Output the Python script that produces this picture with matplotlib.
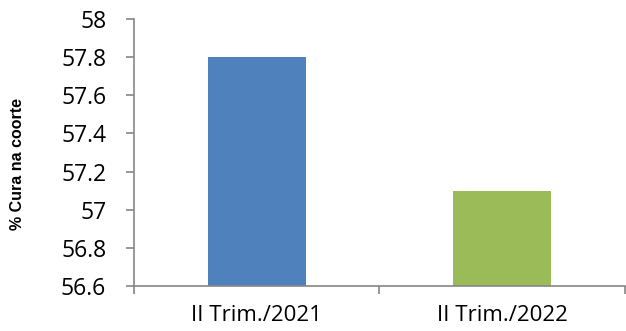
import matplotlib.pyplot as plt

categories = ["II Trim./2021", "II Trim./2022"]
values = [57.8, 57.1]
colors = ["#4F81BD", "#9BBB59"]
yticks = [56.6, 56.8, 57, 57.2, 57.4, 57.6, 57.8, 58]
ytick_labels = ["56.6", "56.8", "57", "57.2", "57.4", "57.6", "57.8", "58"]

fig = plt.figure(figsize=(6.26, 3.31), dpi=100)
ax = fig.add_axes([0.214, 0.136, 0.784, 0.807])

x = list(range(len(categories)))
ax.bar(x, [v - 56.6 for v in values], bottom=56.6, width=0.4, color=colors)

ax.set_xlim(-0.5, 1.5)
ax.set_ylim(56.6, 58)
ax.set_yticks(yticks)
ax.set_yticklabels(ytick_labels, fontfamily="Open Sans", fontsize=16.5)
ax.set_xticks(x)
ax.set_xticklabels(categories, fontfamily="Open Sans", fontsize=16)
ax.set_xticks([-0.5, 0.5, 1.5], minor=True)

grey = "#868686"
for side in ["top", "right"]:
    ax.spines[side].set_visible(False)
for side in ["left", "bottom"]:
    ax.spines[side].set_color(grey)
    ax.spines[side].set_linewidth(1.2)

ax.tick_params(axis="y", direction="out", length=6, width=1.2, color=grey, pad=14)
ax.tick_params(axis="x", which="major", length=0, pad=14)
ax.tick_params(axis="x", which="minor", direction="out", length=6, width=1.2, color=grey)

ax.set_ylabel("% Cura na coorte", fontfamily="Liberation Sans", fontweight="bold",
              fontsize=11.5, va="center")
ax.yaxis.set_label_coords(-0.238, 0.457)

fig.savefig("out.png", dpi=100)
